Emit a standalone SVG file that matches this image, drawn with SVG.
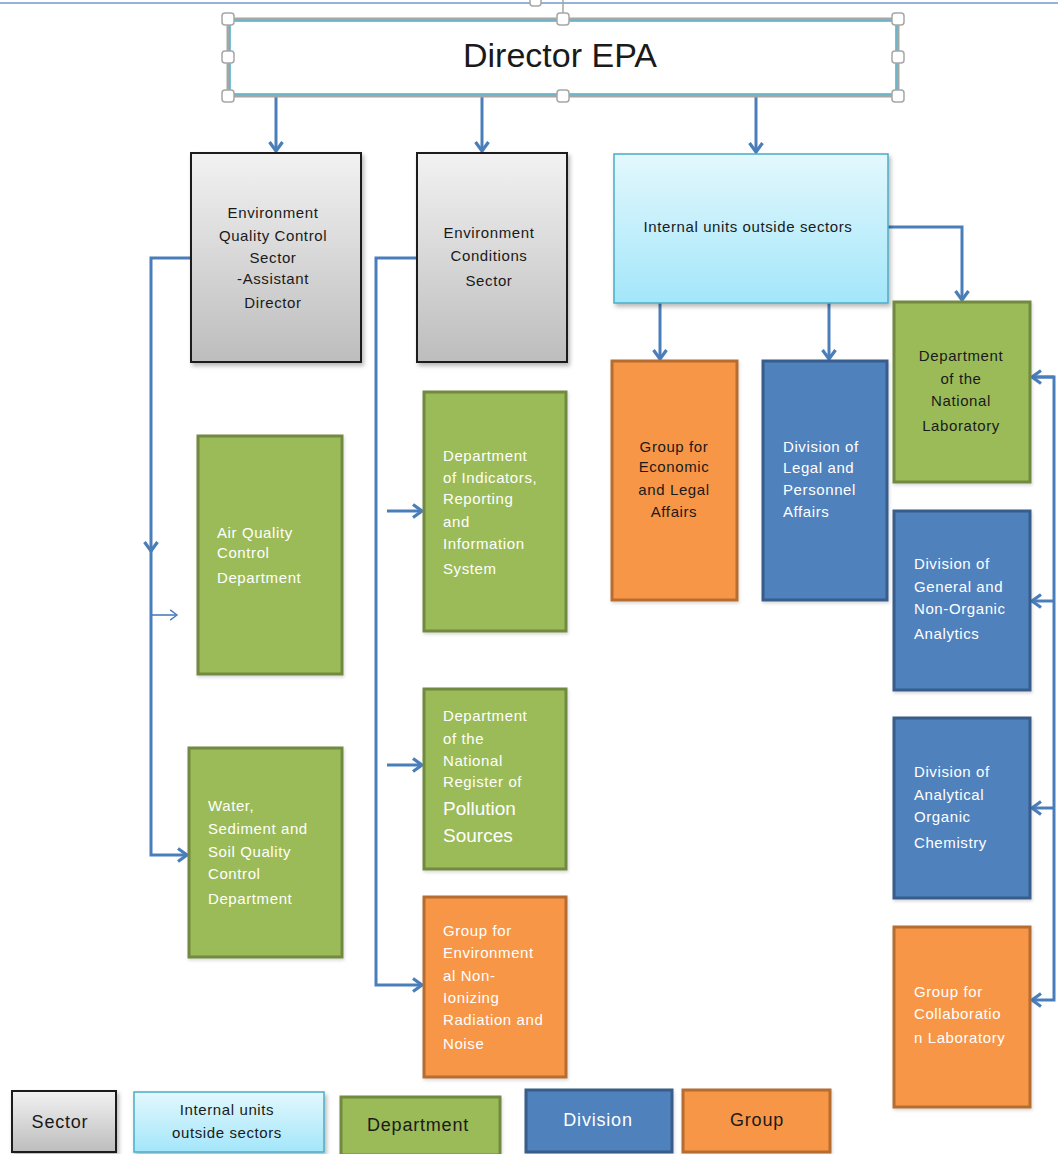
<svg xmlns="http://www.w3.org/2000/svg" width="1058" height="1154" viewBox="0 0 1058 1154">
  <defs>
    <linearGradient id="gSector" x1="0" y1="0" x2="0" y2="1">
      <stop offset="0" stop-color="#f2f2f2"/>
      <stop offset="1" stop-color="#bdbdbd"/>
    </linearGradient>
    <linearGradient id="gUnits" x1="0" y1="0" x2="0" y2="1">
      <stop offset="0" stop-color="#e3f8fd"/>
      <stop offset="1" stop-color="#a3e6fa"/>
    </linearGradient>
    <filter id="shadow" x="-10%" y="-10%" width="125%" height="125%">
      <feDropShadow dx="2" dy="3" stdDeviation="2" flood-color="#000" flood-opacity="0.28"/>
    </filter>
    <filter id="soft" x="-10%" y="-10%" width="125%" height="125%">
      <feDropShadow dx="1" dy="2" stdDeviation="1.5" flood-color="#000" flood-opacity="0.15"/>
    </filter>
    <marker id="arrow" viewBox="0 0 16 16" markerWidth="16" markerHeight="16" refX="11" refY="8" orient="auto" markerUnits="userSpaceOnUse">
      <path d="M2,1.5 L11,8 L2,14.5" fill="none" stroke="#4a7ebb" stroke-width="3.2" stroke-linejoin="miter"/>
    </marker>
    <marker id="arrowThin" viewBox="0 0 14 14" markerWidth="12" markerHeight="12" refX="11" refY="7" orient="auto" markerUnits="userSpaceOnUse">
      <path d="M3,1 L11,7 L3,13" fill="none" stroke="#4a7ebb" stroke-width="1.6"/>
    </marker>
  </defs>
  <style>
    text { font-family: "Liberation Sans", Arial, sans-serif; }
    .sm { font-size: 15px; letter-spacing: 0.6px; }
    .lg { font-size: 18px; letter-spacing: 0.8px; }
    .dark { fill: #1a1a1a; }
    .light { fill: #ffffff; }
    .mid { text-anchor: middle; }
    .sector { fill: url(#gSector); stroke: #1a1a1a; stroke-width: 2; filter: url(#shadow); }
    .units { fill: url(#gUnits); stroke: #4bacc6; stroke-width: 1.5; filter: url(#shadow); }
    .dept { fill: #9bbb59; stroke: #71893f; stroke-width: 3; filter: url(#soft); }
    .div { fill: #4f81bd; stroke: #385d8a; stroke-width: 3; filter: url(#soft); }
    .grp { fill: #f79646; stroke: #b66d31; stroke-width: 3; filter: url(#soft); }
    .conn { fill: none; stroke: #4a7ebb; stroke-width: 3; }
    .handle { fill: #ffffff; stroke: #a6a6a6; stroke-width: 1.5; }
  </style>

  <!-- page edge line -->
  <line x1="0" y1="3" x2="1058" y2="3" stroke="#95b3d7" stroke-width="2"/>

  <!-- connectors -->
  <g id="connectors">
    <path class="conn" d="M276,96 V151" marker-end="url(#arrow)"/>
    <path class="conn" d="M482,96 V151" marker-end="url(#arrow)"/>
    <path class="conn" d="M756,96 V152" marker-end="url(#arrow)"/>

    <path class="conn" d="M191,258 H151 V551" marker-end="url(#arrow)"/>
    <path class="conn" d="M151,551 V855 H187" marker-end="url(#arrow)"/>
    <path d="M152,615 H177" fill="none" stroke="#4a7ebb" stroke-width="1.6" marker-end="url(#arrowThin)"/>

    <path class="conn" d="M417,258 H376 V985 H422" marker-end="url(#arrow)"/>
    <path class="conn" d="M387,511 H422" marker-end="url(#arrow)"/>
    <path class="conn" d="M387,765 H422" marker-end="url(#arrow)"/>

    <path class="conn" d="M888,227 H962 V300" marker-end="url(#arrow)"/>
    <path class="conn" d="M660,303 V359" marker-end="url(#arrow)"/>
    <path class="conn" d="M829,303 V359" marker-end="url(#arrow)"/>

    <path class="conn" d="M1032,377 H1054 V1000 H1032" marker-end="url(#arrow)"/>
    <path class="conn" d="M1054,377 H1032" marker-end="url(#arrow)"/>
    <path class="conn" d="M1054,601 H1032" marker-end="url(#arrow)"/>
    <path class="conn" d="M1054,808 H1032" marker-end="url(#arrow)"/>
  </g>

  <!-- Director -->
  <g id="director">
    <line x1="563" y1="0" x2="563" y2="19" stroke="#a6a6a6" stroke-width="1.5"/>
    <rect class="handle" x="530" y="-3" width="11" height="9" rx="3"/>
    <rect x="228" y="19" width="670" height="77" fill="#ffffff" stroke="#a6a6a6" stroke-width="3"/>
    <rect x="230" y="21" width="666" height="73" fill="none" stroke="#4bacc6" stroke-width="1.5"/>
    <text x="560" y="67" class="mid dark" font-size="34">Director EPA</text>
    <rect class="handle" x="222" y="13" width="12" height="12" rx="3"/>
    <rect class="handle" x="557" y="13" width="12" height="12" rx="3"/>
    <rect class="handle" x="892" y="13" width="12" height="12" rx="3"/>
    <rect class="handle" x="222" y="51" width="12" height="12" rx="3"/>
    <rect class="handle" x="892" y="51" width="12" height="12" rx="3"/>
    <rect class="handle" x="222" y="90" width="12" height="12" rx="3"/>
    <rect class="handle" x="557" y="90" width="12" height="12" rx="3"/>
    <rect class="handle" x="892" y="90" width="12" height="12" rx="3"/>
  </g>

  <!-- Sectors -->
  <g id="sector-quality">
    <rect class="sector" x="191" y="153" width="170" height="209"/>
    <text class="sm dark mid" x="273" y="218">Environment</text>
    <text class="sm dark mid" x="273" y="241">Quality Control</text>
    <text class="sm dark mid" x="273" y="263">Sector</text>
    <text class="sm dark mid" x="273" y="284">-Assistant</text>
    <text class="sm dark mid" x="273" y="308">Director</text>
  </g>
  <g id="sector-conditions">
    <rect class="sector" x="417" y="153" width="150" height="209"/>
    <text class="sm dark mid" x="489" y="238">Environment</text>
    <text class="sm dark mid" x="489" y="261">Conditions</text>
    <text class="sm dark mid" x="489" y="286">Sector</text>
  </g>
  <g id="internal-units">
    <rect class="units" x="614" y="154" width="274" height="149"/>
    <text class="sm dark mid" x="748" y="232">Internal units outside sectors</text>
  </g>

  <!-- Quality control departments -->
  <g id="air-quality">
    <rect class="dept" x="198" y="436" width="144" height="238"/>
    <text class="sm light" x="217" y="538">Air Quality</text>
    <text class="sm light" x="217" y="558">Control</text>
    <text class="sm light" x="217" y="583">Department</text>
  </g>
  <g id="water-soil">
    <rect class="dept" x="189" y="748" width="153" height="209"/>
    <text class="sm light" x="208" y="811">Water,</text>
    <text class="sm light" x="208" y="834">Sediment and</text>
    <text class="sm light" x="208" y="857">Soil Quality</text>
    <text class="sm light" x="208" y="879">Control</text>
    <text class="sm light" x="208" y="904">Department</text>
  </g>

  <!-- Conditions units -->
  <g id="indicators">
    <rect class="dept" x="424" y="392" width="142" height="239"/>
    <text class="sm light" x="443" y="461">Department</text>
    <text class="sm light" x="443" y="483">of Indicators,</text>
    <text class="sm light" x="443" y="504">Reporting</text>
    <text class="sm light" x="443" y="527">and</text>
    <text class="sm light" x="443" y="549">Information</text>
    <text class="sm light" x="443" y="574">System</text>
  </g>
  <g id="pollution-register">
    <rect class="dept" x="424" y="689" width="142" height="180"/>
    <text class="sm light" x="443" y="721">Department</text>
    <text class="sm light" x="443" y="744">of the</text>
    <text class="sm light" x="443" y="766">National</text>
    <text class="sm light" x="443" y="787">Register of</text>
    <text class="light" x="443" y="815" font-size="19">Pollution</text>
    <text class="light" x="443" y="842" font-size="19">Sources</text>
  </g>
  <g id="radiation-noise">
    <rect class="grp" x="424" y="897" width="142" height="180"/>
    <text class="sm light" x="443" y="936">Group for</text>
    <text class="sm light" x="443" y="958">Environment</text>
    <text class="sm light" x="443" y="981">al Non-</text>
    <text class="sm light" x="443" y="1003">Ionizing</text>
    <text class="sm light" x="443" y="1025">Radiation and</text>
    <text class="sm light" x="443" y="1049">Noise</text>
  </g>

  <!-- Internal units -->
  <g id="economic-legal">
    <rect class="grp" x="612" y="361" width="125" height="239"/>
    <text class="sm dark mid" x="674" y="452">Group for</text>
    <text class="sm dark mid" x="674" y="472">Economic</text>
    <text class="sm dark mid" x="674" y="495">and Legal</text>
    <text class="sm dark mid" x="674" y="517">Affairs</text>
  </g>
  <g id="legal-personnel">
    <rect class="div" x="763" y="361" width="124" height="239"/>
    <text class="sm light" x="783" y="452">Division of</text>
    <text class="sm light" x="783" y="473">Legal and</text>
    <text class="sm light" x="783" y="495">Personnel</text>
    <text class="sm light" x="783" y="517">Affairs</text>
  </g>
  <g id="national-lab">
    <rect class="dept" x="894" y="302" width="136" height="180"/>
    <text class="sm dark mid" x="961" y="361">Department</text>
    <text class="sm dark mid" x="961" y="384">of the</text>
    <text class="sm dark mid" x="961" y="406">National</text>
    <text class="sm dark mid" x="961" y="431">Laboratory</text>
  </g>
  <g id="general-analytics">
    <rect class="div" x="894" y="511" width="136" height="179"/>
    <text class="sm light" x="914" y="569">Division of</text>
    <text class="sm light" x="914" y="592">General  and</text>
    <text class="sm light" x="914" y="614">Non-Organic</text>
    <text class="sm light" x="914" y="639">Analytics</text>
  </g>
  <g id="organic-chemistry">
    <rect class="div" x="894" y="718" width="136" height="180"/>
    <text class="sm light" x="914" y="777">Division of</text>
    <text class="sm light" x="914" y="800">Analytical</text>
    <text class="sm light" x="914" y="822">Organic</text>
    <text class="sm light" x="914" y="848">Chemistry</text>
  </g>
  <g id="lab-collaboration">
    <rect class="grp" x="894" y="927" width="136" height="180"/>
    <text class="sm light" x="914" y="997">Group for</text>
    <text class="sm light" x="914" y="1019">Collaboratio</text>
    <text class="sm light" x="914" y="1043">n Laboratory</text>
  </g>

  <!-- Legend -->
  <g id="legend">
    <rect class="sector" x="12" y="1091" width="104" height="61"/>
    <text class="lg dark mid" x="60" y="1128">Sector</text>
    <rect class="units" x="134" y="1092" width="190" height="60"/>
    <text class="sm dark mid" x="227" y="1115" font-size="14">Internal units</text>
    <text class="sm dark mid" x="227" y="1138" font-size="14">outside sectors</text>
    <rect class="dept" x="341" y="1097" width="159" height="58"/>
    <text class="lg dark mid" x="418" y="1131">Department</text>
    <rect class="div" x="526" y="1090" width="146" height="62"/>
    <text class="lg light mid" x="598" y="1126">Division</text>
    <rect class="grp" x="683" y="1090" width="147" height="62"/>
    <text class="lg dark mid" x="757" y="1126">Group</text>
  </g>
</svg>
